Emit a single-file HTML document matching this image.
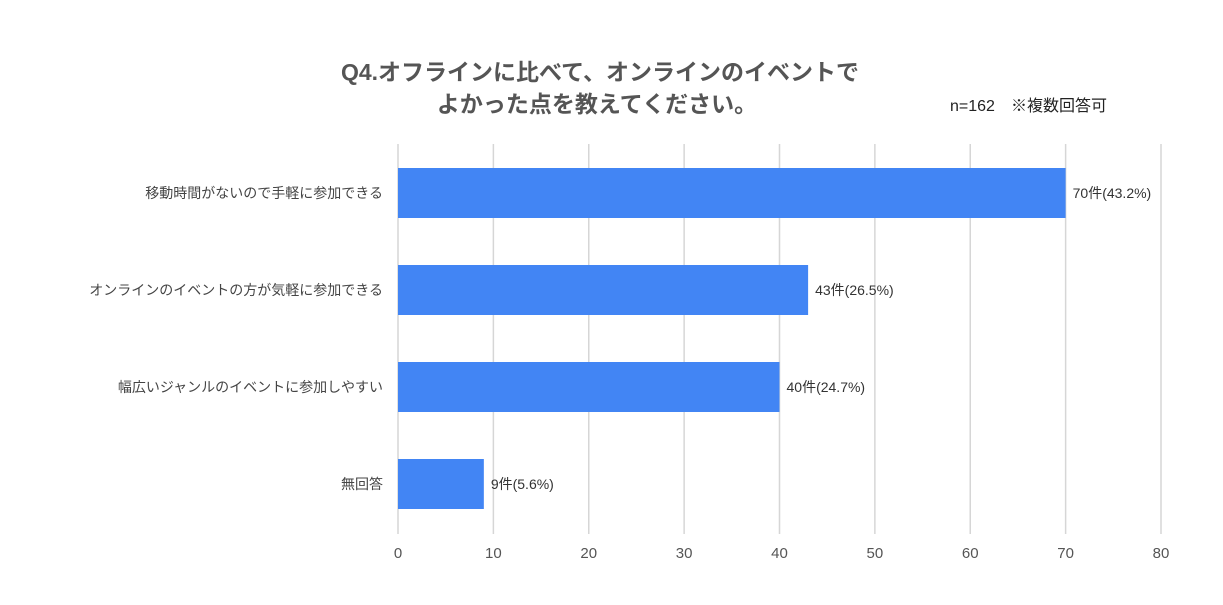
<!DOCTYPE html>
<html><head><meta charset="utf-8"><style>
html,body{margin:0;padding:0;background:#fff;}
body{width:1223px;height:600px;overflow:hidden;font-family:"Liberation Sans","Noto Sans CJK JP",sans-serif;}
</style></head><body>
<svg id="chart" width="1223" height="600" xmlns="http://www.w3.org/2000/svg" font-family="Liberation Sans, Noto Sans CJK JP, sans-serif">
<text x="600" y="80" text-anchor="middle" font-size="23" font-weight="bold" fill="#555">Q4.オフラインに比べて、オンラインのイベントで</text>
<text x="597" y="112" text-anchor="middle" font-size="23" font-weight="bold" fill="#555">よかった点を教えてください。</text>
<text x="950" y="111" font-size="16" fill="#222">n=162　※複数回答可</text>
<g id="grid"></g><g id="bars"></g><g id="labels"></g>
</svg>
<script>
const categories=["移動時間がないので手軽に参加できる","オンラインのイベントの方が気軽に参加できる","幅広いジャンルのイベントに参加しやすい","無回答"];
const values=[70,43,40,9];
const valueLabels=["70件(43.2%)","43件(26.5%)","40件(24.7%)","9件(5.6%)"];
const ticks=[0,10,20,30,40,50,60,70,80];
const NS="http://www.w3.org/2000/svg";
const x0=398,x1=1161,xmax=80;
const xs=v=>x0+(x1-x0)*v/xmax;
const bandTop=144,band=97,barH=50,barOff=24;
const grid=document.getElementById('grid'),bars=document.getElementById('bars'),labels=document.getElementById('labels');
function mk(tag,attrs,parent,text){const e=document.createElementNS(NS,tag);for(const k in attrs)e.setAttribute(k,attrs[k]);if(text!==undefined)e.textContent=text;parent.appendChild(e);return e;}
ticks.forEach(t=>{
const l=mk('line',{x1:xs(t),x2:xs(t),y1:144,y2:534,stroke:'#d6d6d6','stroke-width':1.5},grid);


const tx=mk('text',{x:xs(t),y:558,'text-anchor':'middle','font-size':15,fill:'#555'},grid,String(t));


});
categories.forEach((c,i)=>{
const y=bandTop+i*band+barOff;
const r=mk('rect',{x:xs(0),y:y,width:xs(values[i])-xs(0),height:barH,fill:'#4285f4'},bars);


const cl=mk('text',{x:383,y:y+barH/2+5,'text-anchor':'end','font-size':14,fill:'#444'},labels,c);


const vl=mk('text',{x:xs(values[i])+7,y:y+barH/2+5,'font-size':14,fill:'#333'},labels,valueLabels[i]);


});
</script>
</body></html>
